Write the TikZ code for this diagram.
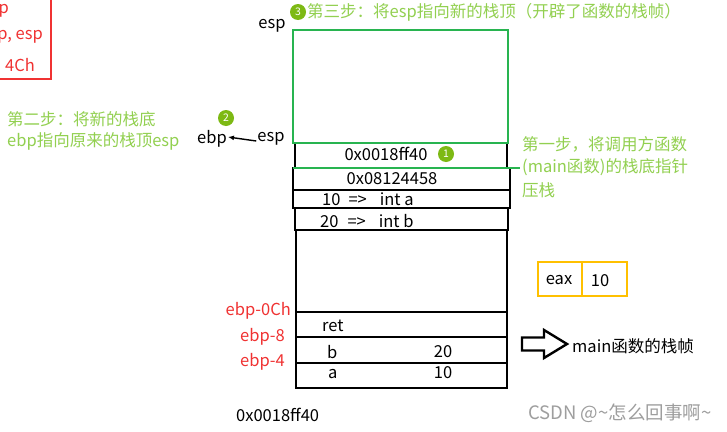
\documentclass[tikz,border=0pt]{standalone}
\usepackage{fontspec}
\setmainfont{Noto Sans CJK SC}
\usetikzlibrary{arrows.meta}
\definecolor{stepgreen}{RGB}{146,208,80}
\definecolor{dotgreen}{RGB}{125,185,20}
\definecolor{framegreen}{RGB}{40,180,80}
\definecolor{redtxt}{RGB}{240,50,50}
\definecolor{boxyellow}{RGB}{255,192,0}
\tikzset{
  txt/.style={inner sep=0pt,font=\fontsize{16.5}{19}\selectfont},
  gtxt/.style={txt,text=stepgreen,align=left},
  rtxt/.style={txt,text=redtxt},
  stackbox/.style={draw=black,line width=2.6pt},
  numdot/.style={circle,fill=dotgreen,text=white,minimum size=16pt,inner sep=0pt,font=\fontsize{10.5}{11}\selectfont},
}
\begin{document}
\begin{tikzpicture}[x=1pt,y=-1pt]
\useasboundingbox (0,0) rectangle (727,431);
\fill[white] (0,0) rectangle (727,431);

% red code box (cut off at left)
\draw[redtxt,line width=1.5pt] (-5,-5) rectangle (51,79);
\node[rtxt,anchor=east] (c1) at (9,11) {p};
\node[rtxt,anchor=east] (c2) at (43,37) {p, esp};
\node[rtxt,anchor=east] (c3) at (35,65) {4Ch};

% step 2 text
\node[gtxt,anchor=west] (s2a) at (7,119) {第二步：将新的栈底};
\node[gtxt,anchor=west] (s2b) at (7,141) {ebp指向原来的栈顶esp};

% step 3
\node[numdot] (d3) at (298,12) {3};
\node[gtxt,anchor=west] (s3) at (307,12) {第三步：将esp指向新的栈顶（开辟了函数的栈帧）};
\node[txt] (esptop) at (272,26) {esp};

% ebp <- esp
\node[numdot] (d2) at (226,118) {2};
\node[txt] (ebp) at (212,139) {ebp};
\node[txt] (esp) at (271,139) {esp};
\draw[line width=1.4pt,-{Latex[length=6pt,width=5pt]}] (esp.west) ++(-1,2) -- ([xshift=1pt,yshift=2pt]ebp.east);

% green new frame
\draw[framegreen,line width=2pt] (293,30) rectangle (508,143);

% stack boxes
\draw[stackbox] (295,143) rectangle (507,168);
\draw[stackbox] (293,168) rectangle (510,190);
\draw[stackbox] (293,190) rectangle (510,208);
\draw[stackbox] (295,208) rectangle (508,230);
\draw[stackbox] (296,230) rectangle (507,388);
\draw[stackbox] (296,312) -- (507,312);
\draw[stackbox] (296,337) -- (507,337);
\draw[stackbox] (296,363) -- (508,363);
\draw[framegreen,line width=1.3pt] (293,168) -- (520,168);
\draw[framegreen,line width=2pt] (293,143) -- (508,143);

\node[txt] (v1) at (386,154) {0x0018ff40};
\node[numdot] (d1) at (446,154) {1};
\node[txt] (v2) at (392,179) {0x08124458};
\node[txt,anchor=west] (v3) at (322,199) {10\hspace{8pt}=>\hspace{13pt}int a};
\node[txt,anchor=west] (v4) at (320,221) {20\hspace{9pt}=>\hspace{13pt}int b};

% step 1 text
\node[gtxt,anchor=west] (s1a) at (522,144) {第一步，将调用方函数};
\node[gtxt,anchor=west] (s1b) at (522,167) {(main函数)的栈底指针};
\node[gtxt,anchor=west] (s1c) at (522,190) {压栈};

% main frame contents
\node[txt,anchor=west] (ret) at (322,326) {ret};
\node[txt,anchor=west] (vb) at (327,352) {b};
\node[txt] (n20) at (443,352) {20};
\node[txt,anchor=west] (va) at (328,374) {a};
\node[txt] (n10) at (443,373) {10};

\node[rtxt,anchor=east] (l1) at (291,311) {ebp-0Ch};
\node[rtxt,anchor=east] (l2) at (285,337) {ebp-8};
\node[rtxt,anchor=east] (l3) at (285,362) {ebp-4};

% eax register
\draw[boxyellow,line width=2.2pt] (538,262) rectangle (627,296);
\draw[boxyellow,line width=2.2pt] (582,262) -- (582,296);
\node[txt] (eax) at (559,280) {eax};
\node[txt] (eaxv) at (600,281) {10};

% hollow arrow
\draw[line width=2.4pt,line join=miter] (522,337.5) -- (544,337.5) -- (544,330) -- (567,344) -- (544,358) -- (544,350.5) -- (522,350.5) -- cycle;
\node[txt,anchor=west] (mainf) at (572,346) {main函数的栈帧};

\node[txt,anchor=west] (addr) at (236,415) {0x0018ff40};
\node[txt,anchor=west,text=black!38,font=\fontsize{18.5}{20}\selectfont] (wm) at (528,413) {CSDN @\textasciitilde 怎么回事啊\textasciitilde};
\end{tikzpicture}
\end{document}
